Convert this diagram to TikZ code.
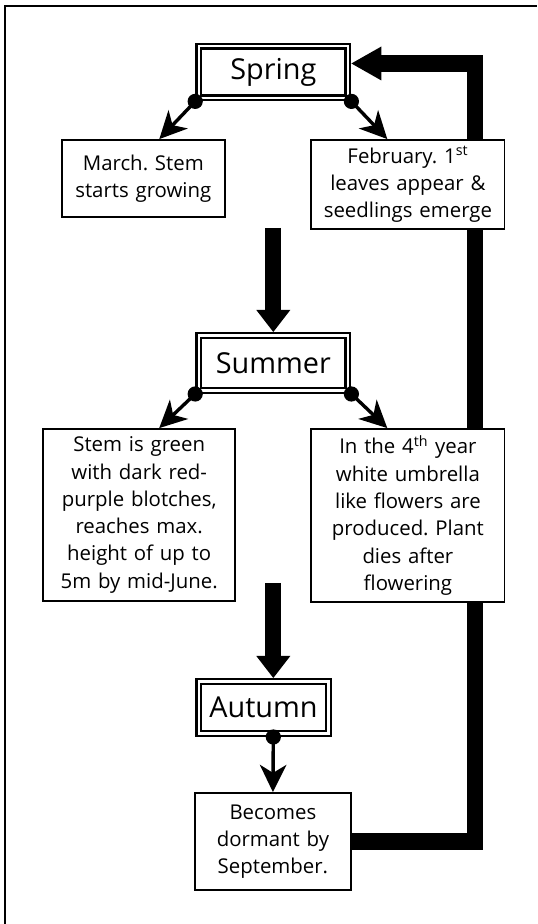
\documentclass[tikz,border=0pt]{standalone}
\usepackage{fontspec}
\setmainfont{Open Sans}
\frenchspacing
\usetikzlibrary{arrows.meta,backgrounds}
\tikzstyle{season}=[draw, double, line width=0.06cm, double distance=0.06cm, outer sep=0.09cm, inner sep=0pt, font=\fontsize{20.5}{24}\selectfont]
\tikzstyle{info}=[draw, fill=white, line width=0.045cm, inner sep=0pt, align=center, font=\fontsize{14.5}{19.4}\selectfont]
\tikzstyle{branch}=[line width=0.085cm, -{Stealth[length=0.68cm, width=0.66cm, inset=0.2cm]}]
\tikzstyle{flow}=[line width=0.4cm, -{Triangle[length=0.55cm, width=0.85cm, line width=0pt]}]

\begin{document}
\begin{tikzpicture}
\useasboundingbox (0, 0) rectangle (13.425, 23.1);
\draw[line width=0.05cm] (0.1125, 0) -- (0.1125, 22.95) -- (13.425, 22.95);

\node[season, minimum width=3.725cm, minimum height=1.29cm] at (6.8325, 21.3) (spring) {Spring};
\node[season, minimum width=3.725cm, minimum height=1.37cm] at (6.8325, 14.025) (summer) {Summer};
\node[season, minimum width=3.24cm, minimum height=1.295cm] at (6.5875, 5.4125) (autumn) {Autumn};

\node[info, minimum width=4.085cm, minimum height=1.925cm, text width=3.9cm] at (3.5825, 18.6375) (march) {March. Stem\\starts growing\\[0.3cm]};
\node[info, minimum width=4.83cm, minimum height=2.225cm, text width=4.7cm] at (10.1975, 18.4875) (february) {February. 1\textsuperscript{st}\\leaves appear \&\\seedlings emerge};
\node[info, minimum width=4.8cm, minimum height=4.3cm, text width=4.65cm] at (3.48, 10.225) (stem) {Stem is green\\with dark red-\\purple blotches,\\reaches max.\\height of up to\\5m by mid-June.};
\node[info, minimum width=4.83cm, minimum height=4.325cm, text width=4.7cm] at (10.1975, 10.2125) (fourth) {In the 4\textsuperscript{th} year\\white umbrella\\like flowers are\\produced. Plant\\dies after\\flowering};
\node[info, minimum width=3.89cm, minimum height=2.425cm, text width=3.75cm] at (6.8225, 2.0625) (becomes) {Becomes\\dormant by\\September.};

% spring
\fill (spring.south west) circle (0.19);
\fill (spring.south east) circle (0.19);
\draw[branch] (spring.south west) -- ([xshift=0.4cm]march.north);
\draw[branch] (spring.south east) -- ([xshift=-0.515cm]february.north);

% summer
\coordinate (drop1) at (6.8325, 17.4);
\draw[flow] (drop1) -- (summer.north);
\fill (summer.south west) circle (0.19);
\fill (summer.south east) circle (0.19);
\draw[branch] (summer.south west) -- ([xshift=0.5cm]stem.north);
\draw[branch] (summer.south east) -- ([xshift=-0.515cm]fourth.north);

% autumn
\coordinate (drop2) at (6.8325, 8.525);
\draw[flow] (drop2) -- (summer.north |- autumn.north);
\fill (summer.north |- autumn.south) circle (0.19);
\draw[branch] (summer.north |- autumn.south) -- (becomes.north);

% back to spring, behind the boxes
\coordinate (corner) at (11.875, 21.5125);
\begin{scope}[on background layer]
\draw[flow, line width=0.42cm, -{Triangle[length=0.75cm, width=0.85cm, line width=0pt]}] (becomes.east) -| (corner) -- (spring.east |- corner);
\end{scope}
\end{tikzpicture}
\end{document}
